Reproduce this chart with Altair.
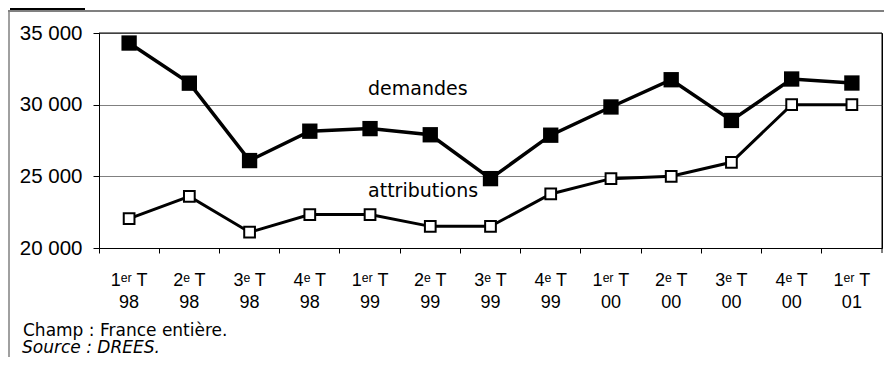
import altair as alt
import pandas as pd

categories = ["1ᵉʳ T|98", "2ᵉ T|98", "3ᵉ T|98", "4ᵉ T|98",
              "1ᵉʳ T|99", "2ᵉ T|99", "3ᵉ T|99", "4ᵉ T|99",
              "1ᵉʳ T|00", "2ᵉ T|00", "3ᵉ T|00", "4ᵉ T|00",
              "1ᵉʳ T|01"]
demandes = [34300, 31500, 26100, 28150, 28330, 27900, 24840,
            27870, 29840, 31740, 28900, 31790, 31510]
attributions = [22050, 23600, 21100, 22330, 22330, 21510, 21510,
                23770, 24840, 25000, 25980, 30000, 30000]
y_ticks = [20000, 25000, 30000, 35000]

ann_text = ["demandes", "attributions"]
ann_cat = ["1ᵉʳ T|99", "1ᵉʳ T|99"]
ann_val = [30000, 25000]
ann_dy = [-10, 21]

note1 = "Champ : France entière."
note2 = "Source : DREES."

df = pd.DataFrame({"cat": categories, "demandes": demandes, "attributions": attributions})
ann = pd.DataFrame({"text": ann_text, "cat": ann_cat, "val": ann_val, "dy": ann_dy})
one = pd.DataFrame({"k": [0]})

FONT = "Liberation Sans"
TFONT = "DejaVu Sans"
W, H = 783, 215

xaxis = alt.Axis(title=None, bandPosition=0, labelAngle=0,
                 labelExpr="split(datum.label, '|')", labelLineHeight=22,
                 labelFontSize=18, labelFont=FONT, labelColor="black",
                 labelBaseline="top", labelPadding=18,
                 tickSize=5, tickColor="black", domainColor="black", grid=False)
yaxis = alt.Axis(title=None, values=y_ticks, grid=True, gridColor="#808080",
                 labelExpr="replace(format(datum.value, ',d'), ',', ' ')",
                 labelFontSize=20.5, labelFont=FONT, labelColor="black",
                 labelPadding=11, tickSize=6, tickColor="black", domainColor="black")

def X():
    return alt.X("cat:N", sort=categories,
                 scale=alt.Scale(type="band", paddingInner=0, paddingOuter=0),
                 axis=xaxis)

def Y(field):
    return alt.Y(f"{field}:Q", scale=alt.Scale(domain=[20000, 35000], nice=False, zero=False),
                 axis=yaxis)

base = alt.Chart(df)

line_att = base.mark_line(color="black", strokeWidth=3).encode(x=X(), y=Y("attributions"))
line_dem = base.mark_line(color="black", strokeWidth=3.5).encode(x=X(), y=Y("demandes"))
pt_att = base.mark_point(shape="square", filled=True, fill="white", stroke="black",
                         strokeWidth=2, size=115, opacity=1).encode(x=X(), y=Y("attributions"))
pt_dem = base.mark_point(shape="square", filled=True, color="black",
                         size=235, opacity=1).encode(x=X(), y=Y("demandes"))

ann_layers = []
for i in range(len(ann_text)):
    ann_layers.append(
        alt.Chart(ann.iloc[[i]]).mark_text(align="left", baseline="alphabetic", dx=-2,
                                           dy=ann_dy[i], fontSize=19, font=TFONT, color="black")
        .encode(x=X(), y=Y("val"), text="text:N")
    )

top_rule = alt.Chart(one).mark_rule(color="black", strokeWidth=1).encode(
    x=alt.value(0), x2=alt.value(W), y=alt.value(0))
end_tick = alt.Chart(one).mark_rule(color="black", strokeWidth=1).encode(
    x=alt.value(W), y=alt.value(0), y2=alt.value(H + 5))
head_box = alt.Chart(one).mark_rect(color="black").encode(
    x=alt.value(-89), x2=alt.value(-14), y=alt.value(-25), y2=alt.value(-22))
head_line = alt.Chart(one).mark_rule(color="#808080", strokeWidth=2).encode(
    x=alt.value(-91), x2=alt.value(800), y=alt.value(-22))
left_line = alt.Chart(one).mark_rule(color="#808080", strokeWidth=1.5).encode(
    x=alt.value(-90), y=alt.value(-23), y2=alt.value(330))
n1 = alt.Chart(one).mark_text(align="left", baseline="alphabetic", fontSize=17, font=TFONT,
                              color="black").encode(
    x=alt.value(-76), y=alt.value(303), text=alt.value(note1))
n2 = alt.Chart(one).mark_text(align="left", baseline="alphabetic", fontSize=17, font=TFONT,
                              fontStyle="italic", color="black").encode(
    x=alt.value(-77), y=alt.value(320), text=alt.value(note2))

chart = alt.layer(
    line_att, line_dem, pt_att, pt_dem, *ann_layers,
    top_rule, end_tick, head_box, head_line, left_line, n1, n2
).properties(
    width=W, height=H,
    padding={"left": 91, "top": 25, "right": 2, "bottom": 109},
    autosize=alt.AutoSizeParams(type="none"),
    background="white",
).configure_view(stroke="black", strokeWidth=1)

chart.save("out.html", embed_options={"renderer": "svg", "actions": False})
